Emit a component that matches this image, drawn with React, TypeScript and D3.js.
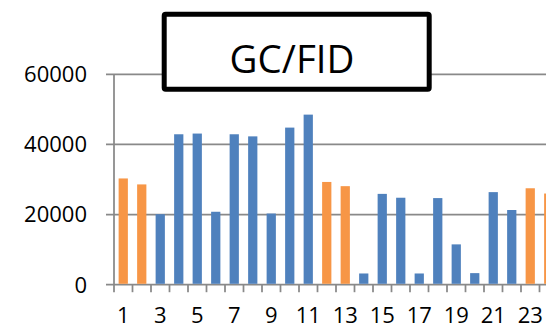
import React from "react";
import * as d3 from "d3";

// Peak areas per injection (GC/FID)
const injections = d3.range(1, 25).map(String);
const areas = [
  30300, 28600, 20100, 42900, 43100, 20800, 42900, 42300, 20300, 44800, 48500,
  29300, 28100, 3200, 25900, 24800, 3200, 24700, 11500, 3300, 26400, 21300,
  27500, 26000,
];
// Calibration standards are shown in orange
const isStandard = [
  true, true, false, false, false, false, false, false, false, false, false,
  true, true, false, false, false, false, false, false, false, false, false,
  true, true,
];
const yTicks = [0, 20000, 40000, 60000];
const xTickLabels = injections.filter((_, i) => i % 2 === 0);
const title = "GC/FID";

const W = 546;
const H = 329;
const BLUE = "#4F81BD";
const ORANGE = "#F79646";
const GRID = "#898989";
const FONT = "'Open Sans', sans-serif";

export default function App() {
  const left = 114;
  const band = 18.5;
  const x = d3
    .scaleBand<string>()
    .domain(injections)
    .range([left, left + band * injections.length])
    .paddingInner(0.5)
    .paddingOuter(0.25);
  const y = d3.scaleLinear().domain([0, 60000]).range([284.7, 74.3]);

  const boundaries = d3.range(injections.length + 1).map((i) => left + i * band);

  return (
    <svg
      width={W}
      height={H}
      style={{ position: "absolute", left: 0, top: 0, background: "#fff" }}
    >
      {/* horizontal gridlines with left tick marks */}
      {yTicks.map((t) => (
        <g key={t}>
          <line
            x1={106}
            x2={W}
            y1={y(t)}
            y2={y(t)}
            stroke={GRID}
            strokeWidth={1.75}
          />
          <text
            x={87}
            y={y(t)}
            dy="0.36em"
            textAnchor="end"
            fontFamily={FONT}
            fontSize={22}
            fill="#000"
          >
            {t}
          </text>
        </g>
      ))}

      {/* vertical axis */}
      <line
        x1={left}
        x2={left}
        y1={y(60000)}
        y2={y(0) + 7.5}
        stroke={GRID}
        strokeWidth={1.75}
      />

      {/* category tick marks */}
      {boundaries.slice(1).map((bx, i) => (
        <line
          key={i}
          x1={bx}
          x2={bx}
          y1={y(0)}
          y2={y(0) + 7.5}
          stroke={GRID}
          strokeWidth={1.75}
        />
      ))}

      {/* bars */}
      {injections.map((c, i) => (
        <rect
          key={c}
          x={x(c)!}
          y={y(areas[i])}
          width={x.bandwidth()}
          height={y(0) - y(areas[i]) - 0.9}
          fill={isStandard[i] ? ORANGE : BLUE}
        />
      ))}

      {/* category labels */}
      {xTickLabels.map((c) => (
        <text
          key={c}
          x={x(c)! + x.bandwidth() / 2}
          y={322.5}
          textAnchor="middle"
          fontFamily={FONT}
          fontSize={22}
          fill="#000"
        >
          {c}
        </text>
      ))}

      {/* title box */}
      <rect
        x={164.2}
        y={14.2}
        width={265}
        height={75}
        rx={1.5}
        fill="#fff"
        stroke="#000"
        strokeWidth={5}
      />
      <text
        x={292}
        y={73}
        textAnchor="middle"
        fontFamily={FONT}
        fontSize={38.5}
        fill="#000"
      >
        {title}
      </text>
    </svg>
  );
}
